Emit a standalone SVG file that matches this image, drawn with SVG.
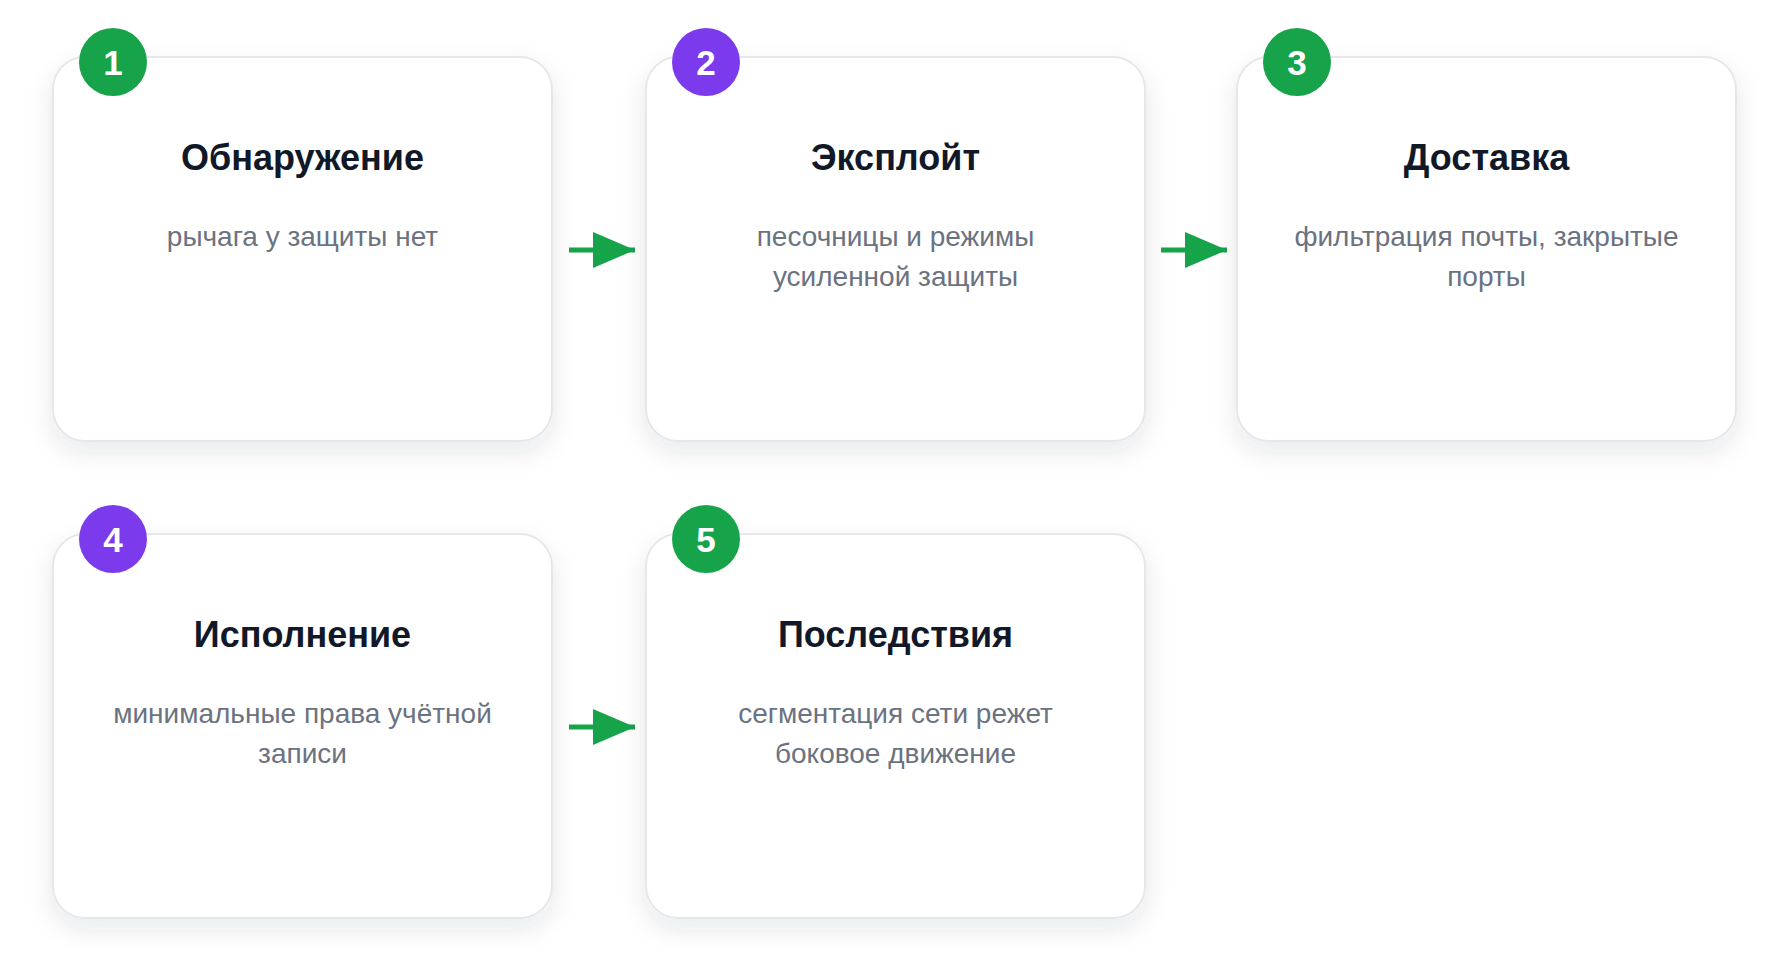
<svg xmlns="http://www.w3.org/2000/svg" width="1790" height="977" viewBox="0 0 1790 977">
<defs>
<filter id="sh" x="-20%" y="-20%" width="140%" height="150%">
<feDropShadow dx="0" dy="10" stdDeviation="12" flood-color="#1f2937" flood-opacity="0.10"/>
</filter>
<marker id="ah" markerWidth="42" markerHeight="36" refX="42" refY="18" orient="auto" markerUnits="userSpaceOnUse">
<path d="M0,0 L42,18 L0,36 Z" fill="#16a34a"/>
</marker>
<style>
.card{fill:#ffffff;stroke:#e5e7eb;stroke-width:2;filter:url(#sh)}
.title{font-family:"Liberation Sans",Arial,sans-serif;font-weight:bold;font-size:36px;fill:#111827;text-anchor:middle}
.desc{font-family:"Liberation Sans",Arial,sans-serif;font-size:28px;fill:#6b7280;text-anchor:middle}
.num{font-family:"Liberation Sans",Arial,sans-serif;font-weight:bold;font-size:35px;fill:#ffffff;text-anchor:middle}
.g{fill:#16a34a}
.p{fill:#7c3aed}
.conn{stroke:#16a34a;stroke-width:5;fill:none}
</style>
</defs>
<rect width="1790" height="977" fill="#ffffff"/>
<g id="connectors">
<line class="conn" x1="569" y1="250" x2="635" y2="250" marker-end="url(#ah)"/>
<line class="conn" x1="1161" y1="250" x2="1227" y2="250" marker-end="url(#ah)"/>
<line class="conn" x1="569" y1="727" x2="635" y2="727" marker-end="url(#ah)"/>
</g>
<g id="node1">
<rect class="card" x="53" y="57" width="499" height="384" rx="32"/>
<circle class="g" cx="113" cy="62" r="34"/>
<text class="num" x="113" y="74.5">1</text>
<text class="title" x="302.5" y="170">Обнаружение</text>
<text class="desc" x="302.5" y="246">рычага у защиты нет</text>
</g>
<g id="node2">
<rect class="card" x="646" y="57" width="499" height="384" rx="32"/>
<circle class="p" cx="706" cy="62" r="34"/>
<text class="num" x="706" y="74.5">2</text>
<text class="title" x="895.5" y="170">Эксплойт</text>
<text class="desc" x="895.5" y="246">песочницы и режимы</text>
<text class="desc" x="895.5" y="286">усиленной защиты</text>
</g>
<g id="node3">
<rect class="card" x="1237" y="57" width="499" height="384" rx="32"/>
<circle class="g" cx="1297" cy="62" r="34"/>
<text class="num" x="1297" y="74.5">3</text>
<text class="title" x="1486.5" y="170">Доставка</text>
<text class="desc" x="1486.5" y="246">фильтрация почты, закрытые</text>
<text class="desc" x="1486.5" y="286">порты</text>
</g>
<g id="node4">
<rect class="card" x="53" y="534" width="499" height="384" rx="32"/>
<circle class="p" cx="113" cy="539" r="34"/>
<text class="num" x="113" y="551.5">4</text>
<text class="title" x="302.5" y="647">Исполнение</text>
<text class="desc" x="302.5" y="723">минимальные права учётной</text>
<text class="desc" x="302.5" y="763">записи</text>
</g>
<g id="node5">
<rect class="card" x="646" y="534" width="499" height="384" rx="32"/>
<circle class="g" cx="706" cy="539" r="34"/>
<text class="num" x="706" y="551.5">5</text>
<text class="title" x="895.5" y="647">Последствия</text>
<text class="desc" x="895.5" y="723">сегментация сети режет</text>
<text class="desc" x="895.5" y="763">боковое движение</text>
</g>
</svg>
